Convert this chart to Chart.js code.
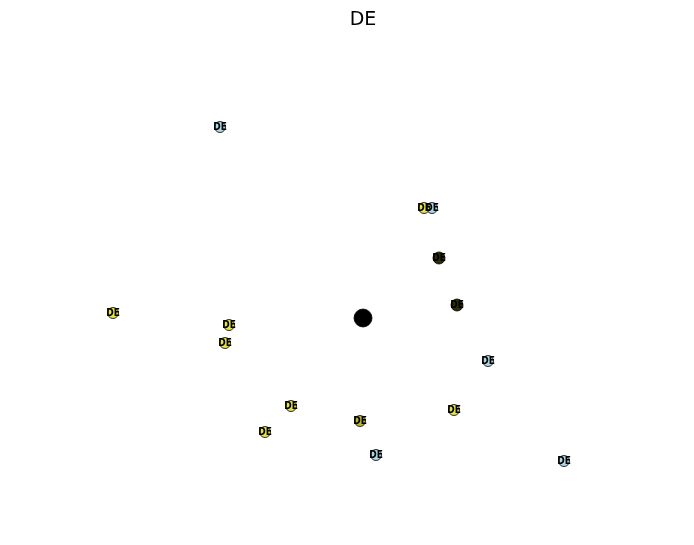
<!DOCTYPE html>
<html>
<head>
<meta charset="utf-8">
<script src="https://cdn.jsdelivr.net/npm/chart.js@4/dist/chart.umd.min.js"></script>
<style>
  html, body { margin: 0; padding: 0; background: #fff; }
  #wrap { width: 694px; height: 545px; }
</style>
</head>
<body>
<div id="wrap"><canvas id="graphChart"></canvas></div>
<script>
// node positions (layout coordinates), group and label
var nodeX = [220, 432, 488, 376, 564, 424, 113, 229, 225, 291, 265, 454, 360, 439, 457, 363];
var nodeY = [127, 208, 361, 455, 461, 208, 313, 325, 343, 406, 432, 410, 421, 258, 305, 318];
var nodeGroup = ["blue", "blue", "blue", "blue", "blue",
                 "yellow", "yellow", "yellow", "yellow", "yellow", "yellow", "yellow",
                 "olive", "dark", "dark", "hub"];
var nodeLabels = ["DE", "DE", "DE", "DE", "DE", "DE", "DE", "DE", "DE", "DE", "DE", "DE", "DE", "DE", "DE", "DE"];

var fillFor = {
    blue: "#add8e6",
    yellow: "#e3e34a",
    olive: "#b9b930",
    dark: "#2e2e06",
    hub: "#000000"
};
var sizeFor = { blue: 5.5, yellow: 5.5, olive: 5.5, dark: 6, hub: 9 };

var points = nodeX.map(function(x, i){ return { x: x, y: nodeY[i] }; });

var labelPlugin = {
    id: "nodeLabels",
    afterDatasetsDraw: function(chart){
        var ctx = chart.ctx;
        var meta = chart.getDatasetMeta(0);
        ctx.save();
        ctx.font = "bold 10px 'DejaVu Sans Condensed', 'DejaVu Sans'";
        ctx.textAlign = "center";
        ctx.textBaseline = "middle";
        ctx.fillStyle = "#000";
        meta.data.forEach(function(el, i){
            if (nodeGroup[i] === "hub") return;
            ctx.fillText(nodeLabels[i], el.x, el.y);
        });
        ctx.restore();
    }
};

new Chart("graphChart", {
    type: "scatter",
    data: {
        datasets: [{
            data: points,
            backgroundColor: nodeGroup.map(function(g){ return fillFor[g]; }),
            borderColor: "#000",
            borderWidth: 0.8,
            pointRadius: nodeGroup.map(function(g){ return sizeFor[g]; }),
            pointHoverRadius: nodeGroup.map(function(g){ return sizeFor[g]; })
        }]
    },
    options: {
        responsive: true,
        maintainAspectRatio: false,
        animation: false,
        layout: { padding: { left: 32, right: 0, top: 0, bottom: 0 }, autoPadding: false },
        plugins: {
            legend: { display: false },
            tooltip: { enabled: false },
            title: {
                display: true,
                text: "DE",
                color: "#000",
                font: { family: "'DejaVu Sans'", size: 19, weight: "normal" },
                padding: { top: 8.6, bottom: 8 }
            }
        },
        scales: {
            x: { type: "linear", display: false, min: 32, max: 694 },
            y: { type: "linear", display: false, reverse: true, min: 39.4, max: 545 }
        }
    },
    plugins: [labelPlugin]
});
</script>
</body>
</html>
